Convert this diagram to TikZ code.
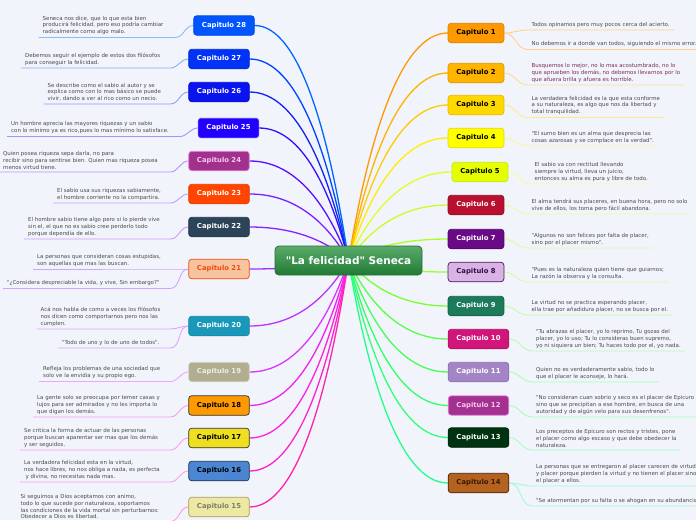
\documentclass[tikz,border=0pt]{standalone}
\usepackage{fontspec}
\newfontfamily\mapfont{DejaVu Sans}
\usetikzlibrary{calc,backgrounds}
\usepackage{xcolor}
% map colours
\definecolor{bgmap}{HTML}{F2F4FC}
\definecolor{leaftext}{HTML}{4A4A4A}
\definecolor{rootTop}{HTML}{5BAB6B}
\definecolor{rootBot}{HTML}{1F7B34}
\definecolor{rootLine}{HTML}{2E6B3A}
% branch colours, right side top to bottom, then left side bottom to top
\definecolor{br1}{HTML}{FF9900}\definecolor{br2}{HTML}{FFB300}
\definecolor{br3}{HTML}{FFCC00}\definecolor{br4}{HTML}{FFEE00}
\definecolor{br5}{HTML}{DDFF22}\definecolor{br6}{HTML}{C8FF22}
\definecolor{br7}{HTML}{AAFF22}\definecolor{br8}{HTML}{99FF33}
\definecolor{br9}{HTML}{77FF33}\definecolor{br10}{HTML}{55FF44}
\definecolor{br11}{HTML}{44FF55}\definecolor{br12}{HTML}{33FF66}
\definecolor{br13}{HTML}{33FF77}\definecolor{br14}{HTML}{22FF88}
\definecolor{br15}{HTML}{FF22AA}\definecolor{br16}{HTML}{FF22CC}
\definecolor{br17}{HTML}{FF22DD}\definecolor{br18}{HTML}{EE22EE}
\definecolor{br19}{HTML}{DD33FF}\definecolor{br20}{HTML}{BB33FF}
\definecolor{br21}{HTML}{9933FF}\definecolor{br22}{HTML}{8822FF}
\definecolor{br23}{HTML}{7722FF}\definecolor{br24}{HTML}{5511FF}
\definecolor{br25}{HTML}{3311FF}\definecolor{br26}{HTML}{1122EE}
\definecolor{br27}{HTML}{0044FF}\definecolor{br28}{HTML}{0066FF}
\tikzset{
  rootnode/.style={draw=rootLine, line width=0.8pt, rounded corners=4pt,
    top color=rootTop, bottom color=rootBot, text=white,
    minimum width=147pt, minimum height=29pt,
    font=\mapfont\bfseries\fontsize{10.5}{12}\selectfont},
  chap/.style={draw, line width=0.7pt, rounded corners=3pt, text=white,
    inner xsep=8.3pt, inner ysep=0pt, minimum height=19.5pt,
    font=\mapfont\bfseries\fontsize{6.85}{8}\selectfont},
  leaf/.style={anchor=south west, align=left, inner xsep=4pt, inner ysep=2.5pt,
    text=leaftext, font=\mapfont\fontsize{5.45}{6.7}\selectfont},
  branch/.style={line width=1.3pt, line cap=round,
    to path={let \p1=(\tikztostart), \p2=(\tikztotarget) in
      .. controls ({\x1+0.2*(\x2-\x1)}, {\y1+0.53*(\y2-\y1)})
      and ({\x2-0.48*(\x2-\x1)}, {\y2}) .. (\tikztotarget)}},
  leafline/.style={line width=0.9pt}
}
\begin{document}
\begin{tikzpicture}[x=1pt, y=-1pt]
  \useasboundingbox (0,0) rectangle (696,520);

  \node[rootnode] (root) at (348.5,260.5) {"La felicidad" Seneca};

  % right chapters
  \node[chap, fill=br1, draw=br1!85!black, text=black] (c1) at (476,33) {Capitulo 1};
  \node[chap, fill={rgb,255:red,255;green,180;blue,0}, draw=br2!85!black, text=black] (c2) at (476,73) {Capitulo 2};
  \node[chap, fill={rgb,255:red,255;green,216;blue,0}, draw=br3!90!black, text=black] (c3) at (476,105) {Capitulo 3};
  \node[chap, fill={rgb,255:red,255;green,255;blue,0}, draw=br4!90!black, text=black] (c4) at (476,138) {Capitulo 4};
  \node[chap, fill={rgb,255:red,230;green,255;blue,0}, draw=br5!90!black, text=black] (c5) at (480,172) {Capitulo 5};
  \node[chap, fill={rgb,255:red,184;green,16;blue,46}, draw={rgb,255:red,144;green,16;blue,32}] (c6) at (476,205) {Capitulo 6};
  \node[chap, fill={rgb,255:red,107;green,10;blue,134}, draw={rgb,255:red,80;green,6;blue,106}] (c7) at (476,239) {Capitulo 7};
  \node[chap, fill={rgb,255:red,217;green,179;blue,227}, draw={rgb,255:red,74;green,18;blue,98}, text={rgb,255:red,58;green,10;blue,78}] (c8) at (476,272) {Capitulo 8};
  \node[chap, fill={rgb,255:red,28;green,123;blue,91}, draw={rgb,255:red,20;green,96;blue,70}] (c9) at (476,306) {Capitulo 9};
  \node[chap, fill={rgb,255:red,210;green,21;blue,123}, draw={rgb,255:red,176;green,16;blue,102}] (c10) at (478.5,339) {Capitulo 10};
  \node[chap, fill={rgb,255:red,163;green,133;blue,198}, draw={rgb,255:red,144;green,112;blue,184}] (c11) at (478.5,372) {Capitulo 11};
  \node[chap, fill={rgb,255:red,163;green,49;blue,143}, draw={rgb,255:red,240;green,138;blue,230}, text={rgb,255:red,245;green,200;blue,240}] (c12) at (478.5,405.5) {Capitulo 12};
  \node[chap, fill={rgb,255:red,0;green,51;blue,15}, draw={rgb,255:red,0;green,38;blue,11}] (c13) at (478.5,437.5) {Capitulo 13};
  \node[chap, fill={rgb,255:red,179;green,98;blue,31}, draw={rgb,255:red,74;green,34;blue,8}, text={rgb,255:red,58;green,26;blue,5}] (c14) at (478.5,483) {Capitulo 14};

  % left chapters
  \node[chap, fill={rgb,255:red,237;green,233;blue,163}, draw={rgb,255:red,163;green,155;blue,98}, text={rgb,255:red,127;green,125;blue,106}] (c15) at (219,507) {Capitulo 15};
  \node[chap, fill={rgb,255:red,75;green,134;blue,210}, draw={rgb,255:red,34;green,50;blue,74}, text=black] (c16) at (219,471) {Capitulo 16};
  \node[chap, fill={rgb,255:red,238;green,224;blue,33}, draw={rgb,255:red,51;green,51;blue,51}, text=black] (c17) at (219,438) {Capitulo 17};
  \node[chap, fill={rgb,255:red,255;green,153;blue,0}, draw={rgb,255:red,51;green,51;blue,51}, text=black] (c18) at (219,405.5) {Capitulo 18};
  \node[chap, fill={rgb,255:red,177;green,173;blue,145}, draw={rgb,255:red,218;green,214;blue,190}, text={rgb,255:red,238;green,238;blue,230}] (c19) at (219,372) {Capitulo 19};
  \node[chap, fill={rgb,255:red,26;green,152;blue,186}, draw={rgb,255:red,22;green,136;blue,168}] (c20) at (219,326) {Capitulo 20};
  \node[chap, fill={rgb,255:red,248;green,196;blue,158}, draw={rgb,255:red,240;green,74;blue,18}, text={rgb,255:red,240;green,74;blue,18}] (c21) at (219,269) {Capitulo 21};
  \node[chap, fill={rgb,255:red,44;green,68;blue,87}, draw={rgb,255:red,35;green,55;blue,74}] (c22) at (219,227) {Capitulo 22};
  \node[chap, fill={rgb,255:red,255;green,69;blue,0}, draw={rgb,255:red,232;green,62;blue,0}] (c23) at (219,194) {Capitulo 23};
  \node[chap, fill={rgb,255:red,162;green,49;blue,142}, draw={rgb,255:red,228;green,138;blue,224}, text={rgb,255:red,245;green,200;blue,240}] (c24) at (219,161) {Capitulo 24};
  \node[chap, fill={rgb,255:red,34;green,0;blue,255}, draw={rgb,255:red,74;green,58;blue,255}] (c25) at (228.5,128) {Capitulo 25};
  \node[chap, fill={rgb,255:red,10;green,20;blue,238}, draw={rgb,255:red,8;green,16;blue,208}] (c26) at (219,92) {Capitulo 26};
  \node[chap, fill={rgb,255:red,0;green,51;blue,245}, draw={rgb,255:red,0;green,42;blue,216}] (c27) at (219,59) {Capitulo 27};
  \node[chap, fill={rgb,255:red,0;green,85;blue,255}, draw={rgb,255:red,0;green,72;blue,224}] (c28) at (224,25.5) {Capitulo 28};

  % right leaves
  \node[leaf] (l1a) at (527.5,30) {Todos opinamos pero muy pocos cerca del acierto.};
  \node[leaf] (l1b) at (527.5,49.5) {No debemos ir a donde van todos, siguiendo el mismo error.};
  \node[leaf, text={rgb,255:red,123;green,45;blue,82}] (l2) at (527.5,85) {Busquemos lo mejor, no lo mas acostumbrado, no lo\\que aprueben los demás, no debemos llevarnos por lo\\que afuera brilla y afuera es horrible.};
  \node[leaf] (l3) at (527.5,117.5) {La verdadera felicidad es la que esta conforme\\a su naturaleza, es algo que nos da libertad y\\total tranquilidad.};
  \node[leaf] (l4) at (527.5,146) {"El sumo bien es un alma que desprecia las\\cosas azarosas y se complace en la verdad".};
  \node[leaf] (l5) at (530.5,184) {El sabio va con rectitud llevando\\siempre la virtud, lleva un juicio,\\entonces su alma es pura y libre de todo.};
  \node[leaf] (l6) at (527.5,214) {El alma tendrá sus placeres, en buena hora, pero no solo\\vive de ellos, los toma pero fácil abandona.};
  \node[leaf] (l7) at (527.5,248) {"Algunos no son felices por falta de placer,\\sino por el placer mismo".};
  \node[leaf] (l8) at (527.5,282) {"Pues es la naturaleza quien tiene que guiarnos;\\La razón la observa y la consulta.};
  \node[leaf] (l9) at (527.5,315) {La virtud no se practica esperando placer,\\ella trae por añadidura placer, no se busca por el.};
  \node[leaf] (l10) at (532,351) {"Tu abrazas el placer, yo lo reprimo, Tu gozas del\\placer, yo lo uso; Tu lo consideras buen supremo,\\yo ni siquiera un bien; Tu haces todo por el, yo nada.};
  \node[leaf] (l11) at (532,382) {Quien no es verdaderamente sabio, todo lo\\que el placer le aconseje, lo hará.};
  \node[leaf] (l12) at (532,417) {"No consideran cuan sobrio y seco es el placer de Epicuro\\sino que se precipitan a ese hombre, en busca de una\\autoridad y de algún velo para sus desenfrenos".};
  \node[leaf] (l13) at (532,450) {Los preceptos de Epicuro son rectos y tristes, pone\\el placer como algo escaso y que debe obedecer la\\naturaleza.};
  \node[leaf] (l14a) at (532,486) {La personas que se entregaron al placer carecen de virtud\\y placer porque pierden la virtud y no tienen el placer sino\\el placer a ellos.};
  \node[leaf] (l14b) at (532,506) {"Se atormentan por su falta o se ahogan en su abundancia".};

  % left leaves
  \node[leaf] (l15) at (16.5,521.5) {Si seguimos a Dios aceptamos con animo,\\todo lo que sucede por naturaleza, soportamos\\las condiciones de la vida mortal sin perturbarnos:\\Obedecer a Dios es libertad.};
  \node[leaf] (l16) at (20,482) {La verdadera felicidad esta en la virtud,\\nos hace libres, no nos obliga a nada, es perfecta\\\hspace{1.5pt}y divina, no necesitas nada mas.};
  \node[leaf] (l17) at (20,450) {Se critica la forma de actuar de las personas\\porque buscan aparentar ser mas que los demás\\y ser seguidos.};
  \node[leaf] (l18) at (33,417) {La gente solo se preocupa por temer casas y\\lujos para ser admirados y no les importa lo\\que digan los demás.};
  \node[leaf] (l19) at (39,381.5) {Refleja los problemas de una sociedad que\\solo ve la envidia y su propio ego.};
  \node[leaf] (l20a) at (36.5,329) {Acá nos habla de como a veces los filósofos\\nos dicen como comportarnos pero nos las\\cumplen.};
  \node[leaf] (l20b) at (58,348) {"Todo de uno y lo de uno de todos".};
  \node[leaf] (l21a) at (33,269) {La personas que consideran cosas estupidas,\\son aquellas que mas las buscan.};
  \node[leaf] (l21b) at (3,288.5) {"¿Considera despreciable la vida, y vive, Sin embargo?"};
  \node[leaf] (l22) at (24,239) {El hombre sabio tiene algo pero si lo pierde vive\\sin el, el que no es sabio cree perderlo todo\\porque dependía de ello.};
  \node[leaf] (l23) at (53,203) {El sabio usa sus riquezas sabiamente,\\el hombre corriente no la compartira.};
  \node[leaf] (l24) at (-1,172) {Quien posea riqueza sepa darla, no para\\recibir sino para sentirse bien. Quien mas riqueza posea\\menos virtud tiene.};
  \node[leaf] (l25) at (7,136.5) {Un hombre aprecia las mayores riquezas y un sabio\\con lo mínimo ya es rico,pues lo mas mínimo lo satisface.};
  \node[leaf] (l26) at (43.5,104) {Se describe como el sabio al autor y se\\explica como con lo mas básico se puede\\vivir, dando a ver al rico como un necio.};
  \node[leaf] (l27) at (21,68) {Debemos seguir el ejemplo de estos dos filósofos\\para conseguir la felicidad.};
  \node[leaf] (l28) at (38.5,37.5) {Seneca nos dice, que lo que esta bien\\producirá felicidad, pero eso podría cambiar\\radicalmente como algo malo.};

  \begin{scope}[on background layer]
    \fill[bgmap] (0,0) rectangle (696,520);
    % root to chapters
    \foreach \i in {1,...,14}
      \draw[branch, draw=br\i] (root.center) to (c\i.west);
    \foreach \i in {15,...,28}
      \draw[branch, draw=br\i] (root.center) to (c\i.east);
    % chapters to leaves
    \foreach \ch/\lf in {1/l1a,1/l1b,2/l2,3/l3,4/l4,5/l5,6/l6,7/l7,8/l8,9/l9,
        10/l10,11/l11,12/l12,13/l13,14/l14a,14/l14b}
      \draw[leafline, draw=br\ch!45] (c\ch.east) to[out=0,in=180] (\lf.south west) -- (\lf.south east);
    \foreach \ch/\lf in {15/l15,16/l16,17/l17,18/l18,19/l19,20/l20a,20/l20b,21/l21a,21/l21b,
        22/l22,23/l23,24/l24,25/l25,26/l26,27/l27,28/l28}
      \draw[leafline, draw=br\ch!45] (c\ch.west) to[out=180,in=0]
        ($(c\ch.west |- \lf.south)+(-18,0)$) -- (\lf.south west);
  \end{scope}
\end{tikzpicture}
\end{document}
